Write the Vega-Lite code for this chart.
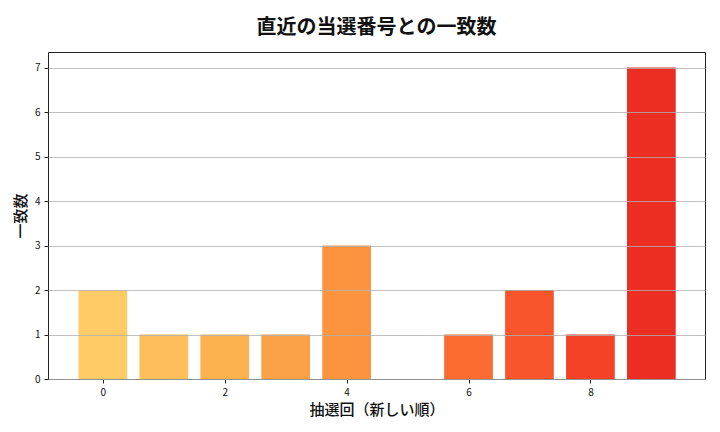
{
  "$schema": "https://vega.github.io/schema/vega-lite/v6.json",
  "width": 657,
  "height": 327,
  "autosize": "none",
  "padding": {"left": 48, "top": 52, "right": 15, "bottom": 53},
  "background": "white",
  "title": {
    "text": "直近の当選番号との一致数",
    "font": "Noto Sans CJK JP",
    "fontSize": 20,
    "fontWeight": "bold",
    "color": "#111",
    "anchor": "middle",
    "offset": 14
  },
  "config": {
    "view": {"stroke": "#222", "strokeWidth": 1},
    "axis": {
      "labelFont": "Noto Sans CJK JP",
      "labelFontSize": 10,
      "labelColor": "#111",
      "titleFont": "Noto Sans CJK JP",
      "titleFontSize": 15,
      "titleFontWeight": 500,
      "titleColor": "#111",
      "domain": false,
      "tickColor": "#222",
      "tickSize": 4
    }
  },
  "data": {
    "values": [
      {"draw": 0, "count": 2},
      {"draw": 1, "count": 1},
      {"draw": 2, "count": 1},
      {"draw": 3, "count": 1},
      {"draw": 4, "count": 3},
      {"draw": 5, "count": 0},
      {"draw": 6, "count": 1},
      {"draw": 7, "count": 2},
      {"draw": 8, "count": 1},
      {"draw": 9, "count": 7}
    ]
  },
  "mark": {"type": "bar", "width": 48.7},
  "encoding": {
    "x": {
      "field": "draw",
      "type": "quantitative",
      "scale": {"domain": [-0.9, 9.88], "nice": false, "zero": false, "padding": 0},
      "axis": {
        "title": "抽選回（新しい順）",
        "values": [0, 2, 4, 6, 8],
        "grid": false,
        "labelPadding": 4,
        "titlePadding": 5
      }
    },
    "y": {
      "field": "count",
      "type": "quantitative",
      "scale": {"domain": [0, 7.35], "nice": false, "padding": 0},
      "axis": {
        "title": "一致数",
        "values": [0, 1, 2, 3, 4, 5, 6, 7],
        "grid": true,
        "gridColor": "#b0b0b0",
        "gridWidth": 0.8,
        "zindex": 1,
        "titlePadding": 6,
        "labelPadding": 4
      }
    },
    "color": {
      "field": "draw",
      "type": "ordinal",
      "legend": null,
      "scale": {
        "domain": [0, 1, 2, 3, 4, 5, 6, 7, 8, 9],
        "range": ["#FECB66", "#FEBE5A", "#FDB14F", "#FCA246", "#FC933F", "#FC7D38", "#FC6B32", "#F9552D", "#F34226", "#EB2D22"]
      }
    }
  }
}
